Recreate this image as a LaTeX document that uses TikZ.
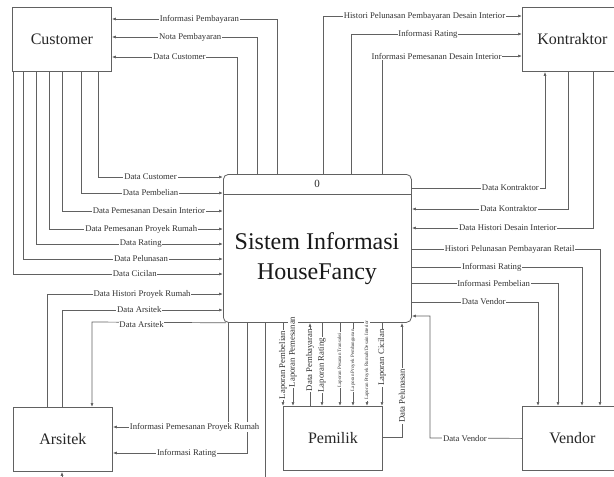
\documentclass[tikz,border=0pt]{standalone}
\usepackage{fontspec}
\setmainfont{Liberation Serif}
\usetikzlibrary{arrows.meta}
\begin{document}
\begin{tikzpicture}[x=1pt,y=-1pt,
  ent/.style={draw=black!62, line width=0.8pt, minimum width=99pt, minimum height=64pt, inner sep=0pt, anchor=north west, font=\fontsize{16}{19}\selectfont, text=black!85},
  flow/.style={draw=black!62, line width=0.7pt, -{Latex[length=4pt,width=3pt]}},
  lbl/.style={fill=white, inner sep=0.8pt, font=\fontsize{8.7}{10}\selectfont, text=black!80},
  vlbl/.style={lbl, rotate=90},
  tinylbl/.style={lbl, rotate=90, font=\fontsize{5}{6}\selectfont},
]
\useasboundingbox (0,0) rectangle (614,477);

% entities
\node[ent] (cust) at (12,7) {Customer};
\node[ent, minimum width=100pt] (kon) at (522,7) {Kontraktor};
\node[ent] (ars) at (13,407) {Arsitek};
\node[ent] (pem) at (283,406) {Pemilik};
\node[ent, minimum width=100pt] (vend) at (522,406) {Vendor};

% process
\node[draw=black!62, line width=0.8pt, rounded corners=5pt, minimum width=188pt, minimum height=148pt, inner sep=0pt, anchor=north west] (main) at (223,174) {};
\draw[draw=black!62, line width=0.8pt] (main.west |- 0,194) -- (main.east |- 0,194);
\node[font=\fontsize{11}{12}\selectfont, text=black!85] (zero) at (317,184) {0};
\node[align=center, font=\fontsize{24}{30}\selectfont, text=black!90] (title) at (317,259) {Sistem Informasi\\HouseFancy};

% main -> customer
\draw[flow] (277,0 |- main.north) -- (277,19) -- node[lbl,pos=0.47]{Informasi Pembayaran} (cust.east |- 0,19);
\draw[flow] (257,0 |- main.north) -- (257,37) -- node[lbl,pos=0.46]{Nota Pembayaran} (cust.east |- 0,37);
\draw[flow] (237,0 |- main.north) -- (237,57) -- node[lbl,pos=0.46]{Data Customer} (cust.east |- 0,57);

% customer -> main
\draw[flow] (98,0 |- cust.south) -- (98,177) -- node[lbl,pos=0.42]{Data Customer} (main.west |- 0,177);
\draw[flow] (81,0 |- cust.south) -- (81,193) -- node[lbl,pos=0.49]{Data Pembelian} (main.west |- 0,193);
\draw[flow] (62,0 |- cust.south) -- (62,211) -- node[lbl,pos=0.54]{Data Pemesanan Desain Interior} (main.west |- 0,211);
\draw[flow] (49,0 |- cust.south) -- (49,229) -- node[lbl,pos=0.53]{Data Pemesanan Proyek Rumah} (main.west |- 0,229);
\draw[flow] (36,0 |- cust.south) -- (36,244) -- node[lbl,pos=0.56]{Data Rating} (main.west |- 0,244);
\draw[flow] (23,0 |- cust.south) -- (23,259) -- node[lbl,pos=0.59]{Data Pelunasan} (main.west |- 0,259);
\draw[flow] (13,0 |- cust.south) -- (13,274) -- node[lbl,pos=0.58]{Data Cicilan} (main.west |- 0,274);

% main -> kontraktor
\draw[flow] (323,0 |- main.north) -- (323,16) -- node[lbl,pos=0.51]{Histori Pelunasan Pembayaran Desain Interior} (kon.west |- 0,16);
\draw[flow] (351,0 |- main.north) -- (351,34) -- node[lbl,pos=0.45]{Informasi Rating} (kon.west |- 0,34);
\draw[flow] (382,0 |- main.north) -- (382,56) -- node[lbl,pos=0.39]{Informasi Pemesanan Desain Interior} (kon.west |- 0,56);
\draw[flow] (main.east |- 0,188) -- node[lbl,pos=0.74]{Data Kontraktor} (545,188) -- (545,0 |- kon.south);

% kontraktor -> main
\draw[flow] (568,0 |- kon.south) -- (568,209) -- node[lbl,pos=0.38]{Data Kontraktor} (main.east |- 0,209);
\draw[flow] (593,0 |- kon.south) -- (593,228) -- node[lbl,pos=0.47]{Data Histori Desain Interior} (main.east |- 0,228);

% main -> vendor
\draw[flow] (main.east |- 0,249) -- node[lbl,pos=0.52]{Histori Pelunasan Pembayaran Retail} (600,249) -- (600,0 |- vend.north);
\draw[flow] (main.east |- 0,267) -- node[lbl,pos=0.47]{Informasi Rating} (582,267) -- (582,0 |- vend.north);
\draw[flow] (main.east |- 0,283) -- node[lbl,pos=0.56]{Informasi Pembelian} (558,283) -- (558,0 |- vend.north);
\draw[flow] (main.east |- 0,302) -- node[lbl,pos=0.57]{Data Vendor} (538,302) -- (538,0 |- vend.north);

% vendor -> main
\draw[flow] (vend.west) -- node[lbl,pos=0.62]{Data Vendor} (430,438) -- (430,316) -- (main.east |- 0,316);

% arsitek -> main
\draw[flow] (47,0 |- ars.north) -- (47,294) -- node[lbl,pos=0.54]{Data Histori Proyek Rumah} (main.west |- 0,294);
\draw[flow] (62,0 |- ars.north) -- (62,310) -- node[lbl,pos=0.48]{Data Arsitek} (main.west |- 0,310);

% main -> arsitek
\draw[flow] ([xshift=3pt]main.south west) -- node[lbl,pos=0.63,yshift=-2pt]{Data Arsitek} (92,322) -- (92,0 |- ars.north);
\draw[flow] (265,0 |- main.south) -- (265,490) -- (62,490) -- (62,0 |- ars.south);
\draw[flow] (247,0 |- main.south) -- (247,453) -- node[lbl,pos=0.45]{Informasi Rating} (ars.east |- 0,453);
\draw[flow] (228,0 |- main.south) -- (228,427) -- node[lbl,pos=0.29]{Informasi Pemesanan Proyek Rumah} (ars.east |- 0,427);

% main <-> pemilik
\draw[flow] (283,0 |- main.south) -- node[vlbl,pos=0.51]{Laporan Pembelian} (283,0 |- pem.north);
\draw[flow] (293,0 |- main.south) -- node[vlbl,pos=0.35]{Laporan Pemesanan} (293,0 |- pem.north);
\draw[flow] (310,0 |- pem.north) -- node[vlbl,pos=0.55]{Data Pembayaran} (310,0 |- main.south);
\draw[flow] (322,0 |- main.south) -- node[vlbl,pos=0.51]{Laporan Rating} (322,0 |- pem.north);
\draw[flow] (340,0 |- main.south) -- node[tinylbl,pos=0.45]{Laporan Pesanan Transaksi} (340,0 |- pem.north);
\draw[flow] (353,0 |- main.south) -- node[tinylbl,pos=0.45]{Laporan Proyek Pembangunan} (353,0 |- pem.north);
\draw[flow] (367,0 |- main.south) -- node[tinylbl,pos=0.45]{Laporan Proyek Rumah/Desain Interior} (367,0 |- pem.north);
\draw[flow] (382,0 |- main.south) -- node[vlbl,pos=0.42]{Laporan Cicilan} (382,0 |- pem.north);
\draw[flow] (pem.east |- 0,437) -- (402,437) -- node[vlbl,pos=0.36]{Data Pelunasan} (402,0 |- main.south);
\end{tikzpicture}
\end{document}
